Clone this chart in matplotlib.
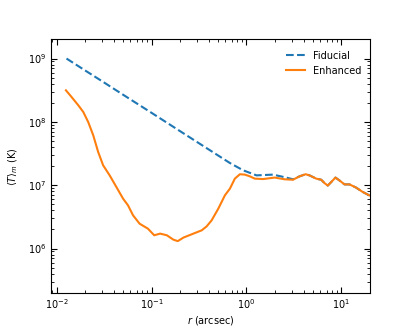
import numpy as np
import matplotlib
matplotlib.use("Agg")
import matplotlib.pyplot as plt

plt.rcParams["mathtext.fontset"] = "dejavusans"
plt.rcParams["font.size"] = 7

# fiducial model (dashed)
r_fid = [0.0127, 0.02, 0.03, 0.05, 0.1, 0.2, 0.4, 0.67, 0.923, 1.277, 1.905, 2.63, 3.09,
         3.63, 4.20, 4.62, 5.44, 6.14, 6.65, 7.20, 7.82, 8.67, 9.55, 10.8, 12.2, 14.3, 16.8, 19.7]
T_fid = [1.0e9, 6.47e8, 4.40e8, 2.69e8, 1.39e8, 7.13e7, 3.67e7, 2.24e7, 1.72e7, 1.43e7, 1.47e7, 1.32e7, 1.24e7,
         1.38e7, 1.49e7, 1.43e7, 1.27e7, 1.22e7, 1.08e7, 9.87e6, 1.12e7, 1.32e7, 1.19e7, 1.03e7, 1.03e7, 9.17e6, 7.82e6, 6.92e6]

# enhanced model (solid)
r_enh = [0.01253, 0.01436, 0.0169, 0.0191, 0.0215, 0.0243, 0.0274, 0.0309, 0.0362, 0.0426,
         0.0501, 0.0565, 0.0638, 0.0748, 0.0916, 0.1067, 0.1233, 0.145, 0.170, 0.189,
         0.217, 0.276, 0.338, 0.381, 0.430, 0.505, 0.593, 0.670, 0.755, 0.853,
         0.962, 1.086, 1.225, 1.497, 1.985, 2.53, 3.09, 3.63, 4.20, 4.62,
         5.44, 6.14, 6.65, 7.20, 7.82, 8.67, 9.55, 10.8, 12.2, 14.3, 16.8, 19.7]
T_enh = [3.15e8, 2.47e8, 1.83e8, 1.43e8, 9.96e7, 6.14e7, 3.34e7, 2.06e7, 1.43e7, 9.37e6,
         6.14e6, 4.81e6, 3.35e6, 2.47e6, 2.06e6, 1.62e6, 1.72e6, 1.62e6, 1.38e6, 1.31e6,
         1.49e6, 1.72e6, 1.94e6, 2.24e6, 2.79e6, 4.26e6, 6.92e6, 8.83e6, 1.27e7, 1.49e7,
         1.47e7, 1.38e7, 1.27e7, 1.25e7, 1.32e7, 1.24e7, 1.22e7, 1.38e7, 1.49e7, 1.43e7,
         1.27e7, 1.22e7, 1.08e7, 9.87e6, 1.12e7, 1.32e7, 1.19e7, 1.03e7, 1.03e7, 9.17e6, 7.82e6, 6.92e6]

fig, ax = plt.subplots(figsize=(4.11, 3.29), dpi=100)
fig.subplots_adjust(left=0.125, right=0.9, bottom=0.11, top=0.88)

ax.plot(r_fid, T_fid, "--", color="C0", lw=1.5, label="Fiducial")
ax.plot(r_enh, T_enh, "-", color="C1", lw=1.5, label="Enhanced")

ax.set_xscale("log")
ax.set_yscale("log")
ax.set_xlim(0.0088, 20)
ax.set_ylim(2e5, 2e9)
ax.set_xlabel(r"$r$ (arcsec)", labelpad=1.5)
ax.set_ylabel(r"$\langle T\rangle_m$ (K)", labelpad=6)

ax.tick_params(which="both", direction="in", top=True, right=True)
ax.tick_params(which="major", length=4)
ax.tick_params(which="minor", length=2)

ax.legend(loc="upper right", frameon=False, bbox_to_anchor=(1.0, 0.99))

fig.savefig("out.png", dpi=100)
